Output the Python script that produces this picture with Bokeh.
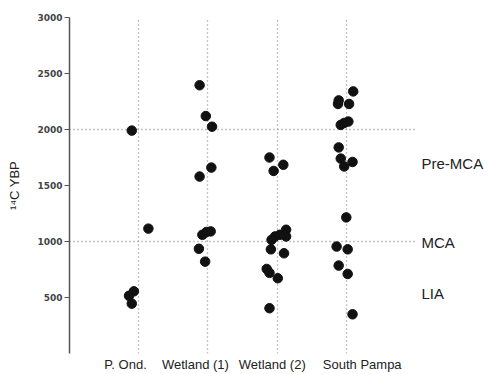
from bokeh.plotting import figure
from bokeh.models import Range1d, FixedTicker, LinearAxis
from bokeh.embed import file_html
from bokeh.resources import INLINE

# Categories along x (positions 1..4)
categories = ["P. Ond.", "Wetland (1)", "Wetland (2)", "South Pampa"]

# Jittered x positions and 14C ages (YBP) per site
pond_x = [0.90, 1.14, 0.86, 0.93, 0.90]
pond_y = [1990, 1115, 515, 555, 445]

wet1_x = [1.88, 1.97, 2.06, 2.05, 1.88, 1.92, 1.98, 2.04, 1.87, 1.96]
wet1_y = [2395, 2120, 2025, 1660, 1580, 1060, 1085, 1090, 935, 820]

wet2_x = [2.89, 2.95, 3.09, 3.13, 3.13, 3.04, 2.97, 2.92, 2.91, 3.10, 2.85, 2.89, 3.01, 2.89]
wet2_y = [1750, 1630, 1685, 1105, 1045, 1060, 1045, 1015, 930, 895, 755, 720, 672, 404]

spam_x = [4.10, 3.89, 3.88, 4.04, 3.92, 3.97, 4.03, 3.89, 3.92, 3.97, 4.09,
          4.00, 3.86, 4.02, 3.89, 4.02, 4.09]
spam_y = [2340, 2260, 2228, 2228, 2041, 2059, 2071, 1840, 1740, 1670, 1710,
          1215, 955, 930, 785, 710, 350]

# Climate period annotations (label, approximate age)
periods = ["Pre-MCA", "MCA", "LIA"]
period_y = [1700, 990, 540]

y_ticks = [500, 1000, 1500, 2000, 2500, 3000]
y_grid = [1000, 2000, 3000]
x_grid = [1, 2, 3, 4, 5]

p = figure(width=488, height=374, x_range=Range1d(0, 5), y_range=Range1d(0, 3000),
           output_backend="svg", toolbar_location=None,
           min_border_left=69, min_border_right=73, min_border_top=17, min_border_bottom=21)
p.outline_line_color = None
p.background_fill_color = "white"
p.border_fill_color = "white"

all_x = pond_x + wet1_x + wet2_x + spam_x
all_y = pond_y + wet1_y + wet2_y + spam_y
p.scatter(all_x, all_y, size=9.5, fill_color="#111111", line_color="#111111")

# grids
p.xgrid.ticker = FixedTicker(ticks=x_grid)
p.ygrid.ticker = FixedTicker(ticks=y_grid)
for g in (p.xgrid, p.ygrid):
    g.grid_line_color = "#8a8a8a"
    g.grid_line_dash = "1 3"
    g.grid_line_width = 1.3

# x axis: category labels sit slightly off the grid lines in the original
label_pos = [0.81, 1.82, 2.93, 4.23]
p.xaxis.ticker = FixedTicker(ticks=label_pos)
p.xaxis.major_label_overrides = {pos: c for pos, c in zip(label_pos, categories)}
p.xaxis.axis_line_color = None
p.xaxis.major_tick_line_color = None
p.xaxis.major_tick_out = 0
p.xaxis.major_tick_in = 0
p.xaxis.minor_tick_line_color = None
p.xaxis.minor_tick_out = 0
p.xaxis.major_label_standoff = 3
p.xaxis.major_label_text_font = "Liberation Sans"
p.xaxis.major_label_text_font_size = "13px"
p.xaxis.major_label_text_color = "#222222"

# y axis
p.yaxis.ticker = FixedTicker(ticks=y_ticks)
p.yaxis.axis_line_color = "#555555"
p.yaxis.axis_line_width = 1.5
p.yaxis.major_tick_line_color = "#555555"
p.yaxis.major_tick_out = 5
p.yaxis.major_tick_in = 0
p.yaxis.minor_tick_line_color = None
p.yaxis.major_label_standoff = 2
p.yaxis.major_label_text_font = "DejaVu Sans"
p.yaxis.major_label_text_font_style = "bold"
p.yaxis.major_label_text_font_size = "9px"
p.yaxis.major_label_text_color = "#444444"
p.yaxis.axis_label = "\u00b9\u2074C YBP"
p.yaxis.axis_label_text_font = "Liberation Sans"
p.yaxis.axis_label_text_font_style = "normal"
p.yaxis.axis_label_text_font_size = "13px"
p.yaxis.axis_label_text_color = "#222222"
p.yaxis.axis_label_standoff = 12

# right-hand period labels
ax_r = LinearAxis(ticker=FixedTicker(ticks=period_y),
                  major_label_overrides={yy: lab for yy, lab in zip(period_y, periods)})
ax_r.axis_line_color = None
ax_r.major_tick_line_color = None
ax_r.major_tick_out = 0
ax_r.major_tick_in = 0
ax_r.minor_tick_line_color = None
ax_r.minor_tick_out = 0
ax_r.major_label_standoff = 6
ax_r.major_label_text_font = "Liberation Sans"
ax_r.major_label_text_font_size = "15px"
ax_r.major_label_text_color = "#222222"
p.add_layout(ax_r, "right")

open("out.html", "w").write(file_html(p, INLINE))
